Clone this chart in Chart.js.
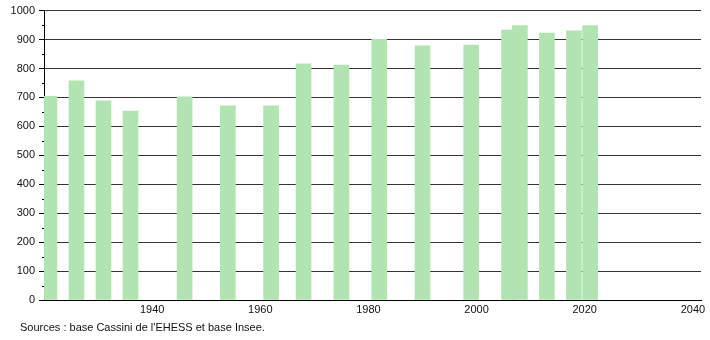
<!DOCTYPE html>
<html>
<head>
<meta charset="utf-8">
<script src="https://cdn.jsdelivr.net/npm/chart.js@4"></script>
<style>
  html, body { margin: 0; padding: 0; background: #fff; }
  #wrap { width: 710px; height: 340px; position: relative; }
</style>
</head>
<body>
<div id="wrap"><canvas id="popChart" width="710" height="340"></canvas></div>
<script>
// census years and population
const years = [1921, 1926, 1931, 1936, 1946, 1954, 1962, 1968, 1975, 1982, 1990, 1999, 2006, 2008, 2013, 2018, 2021];
const population = [704, 757, 688, 653, 702, 671, 671, 816, 812, 901, 878, 881, 933, 948, 922, 930, 948];
const xTickYears = [1940, 1960, 1980, 2000, 2020, 2040];
const sourceText = "Sources : base Cassini de l'EHESS et base Insee.";

const FONT = "'Liberation Sans', Arial, sans-serif";

// small ticks at the half hundreds, and the source line
const extras = {
    id: 'extras',
    afterDraw(chart) {
        const ctx = chart.ctx;
        const y = chart.scales.y;
        ctx.save();
        ctx.strokeStyle = '#000';
        ctx.lineWidth = 1;
        for (let v = 50; v < 1000; v += 100) {
            const py = Math.round(y.getPixelForValue(v)) + 0.5;
            ctx.beginPath();
            ctx.moveTo(y.right - 2, py);
            ctx.lineTo(y.right, py);
            ctx.stroke();
        }
        ctx.fillStyle = '#111';
        ctx.font = '11px ' + FONT;
        ctx.textBaseline = 'middle';
        ctx.fillText(sourceText, 20, 328);
        ctx.restore();
    }
};

const ctx = document.getElementById('popChart').getContext('2d');
new Chart(ctx, {
    type: 'bar',
    data: {
        datasets: [{
            data: years.map((yr, i) => ({ x: yr, y: population[i] })),
            backgroundColor: '#b2e4b2',
            borderWidth: 0,
            barThickness: 15
        }]
    },
    options: {
        responsive: false,
        animation: false,
        layout: { padding: { top: 10, right: 9, left: 0, bottom: 0 } },
        plugins: { legend: { display: false }, tooltip: { enabled: false } },
        scales: {
            x: {
                type: 'linear',
                offset: false,
                min: 1920,
                max: 2041.5,
                afterBuildTicks: scale => { scale.ticks = xTickYears.map(v => ({ value: v })); },
                afterFit: scale => { scale.height = 40; },
                grid: { display: false, drawTicks: false, offset: false },
                border: { display: true, color: '#000', width: 1 },
                ticks: {
                    padding: 3,
                    maxRotation: 0,
                    autoSkip: false,
                    color: '#111',
                    font: { family: FONT, size: 11 },
                    callback: v => String(v)
                }
            },
            y: {
                min: 0,
                max: 1000,
                afterFit: scale => { scale.width = 44; },
                ticks: {
                    stepSize: 50,
                    padding: 4,
                    color: '#111',
                    font: { family: FONT, size: 11 },
                    callback: v => (v % 100 === 0 ? String(v) : '')
                },
                grid: {
                    color: c => (c.tick.value % 100 === 0 ? '#333' : '#c8c8c8'),
                    tickColor: c => (c.tick.value % 100 === 0 ? '#000' : 'rgba(0,0,0,0)'),
                    tickLength: 5,
                    lineWidth: 1
                },
                border: { display: true, color: '#000', width: 1 }
            }
        }
    },
    plugins: [extras]
});
</script>
</body>
</html>
